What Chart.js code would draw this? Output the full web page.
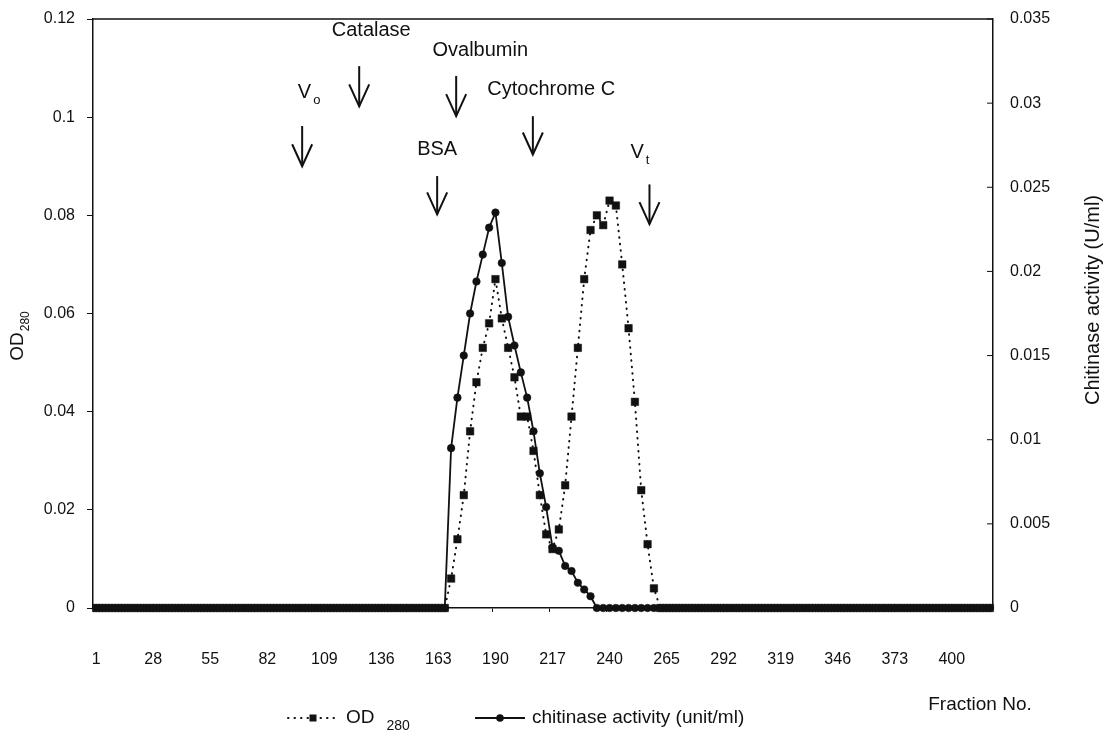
<!DOCTYPE html>
<html>
<head>
<meta charset="utf-8">
<script src="https://cdn.jsdelivr.net/npm/chart.js@4.4.1/dist/chart.umd.min.js"></script>
<style>
  html, body { margin: 0; padding: 0; background: #fff; }
  canvas { display: block; }
</style>
</head>
<body>
<canvas id="chart" width="1104" height="733"></canvas>
<script>
// Fraction numbers printed under every 9th tube
const fractionTicks = ['1', '28', '55', '82', '109', '136', '163', '190', '217', '240', '265', '292', '319', '346', '373', '400'];
const tickEvery = 9;

// OD280 of each collected tube (142 tubes)
const od280 = [
  0, 0, 0, 0, 0, 0, 0, 0, 0, 0, 0, 0, 0, 0,
  0, 0, 0, 0, 0, 0, 0, 0, 0, 0, 0, 0, 0, 0,
  0, 0, 0, 0, 0, 0, 0, 0, 0, 0, 0, 0, 0, 0,
  0, 0, 0, 0, 0, 0, 0, 0, 0, 0, 0, 0, 0, 0,
  0.006, 0.014, 0.023, 0.036, 0.046, 0.053, 0.058, 0.067, 0.059, 0.053,
  0.047, 0.039, 0.039, 0.032, 0.023, 0.015, 0.012, 0.016, 0.025, 0.039,
  0.053, 0.067, 0.077, 0.080, 0.078, 0.083, 0.082, 0.070, 0.057, 0.042,
  0.024, 0.013, 0.004,
  0, 0, 0, 0, 0, 0, 0, 0, 0, 0, 0, 0, 0, 0,
  0, 0, 0, 0, 0, 0, 0, 0, 0, 0, 0, 0, 0, 0,
  0, 0, 0, 0, 0, 0, 0, 0, 0, 0, 0, 0, 0, 0,
  0, 0, 0, 0, 0, 0, 0, 0, 0, 0, 0
];

// chitinase activity (unit/ml) of the same tubes
const chitinase = [
  0, 0, 0, 0, 0, 0, 0, 0, 0, 0, 0, 0, 0, 0,
  0, 0, 0, 0, 0, 0, 0, 0, 0, 0, 0, 0, 0, 0,
  0, 0, 0, 0, 0, 0, 0, 0, 0, 0, 0, 0, 0, 0,
  0, 0, 0, 0, 0, 0, 0, 0, 0, 0, 0, 0, 0, 0,
  0.0095, 0.0125, 0.0150, 0.0175, 0.0194, 0.0210, 0.0226, 0.0235, 0.0205, 0.0173,
  0.0156, 0.0140, 0.0125, 0.0105, 0.0080, 0.0060, 0.0036, 0.0034, 0.0025, 0.0022,
  0.0015, 0.0011, 0.0007,
  0, 0, 0, 0, 0, 0, 0, 0, 0, 0, 0, 0, 0, 0,
  0, 0, 0, 0, 0, 0, 0, 0, 0, 0, 0, 0, 0, 0,
  0, 0, 0, 0, 0, 0, 0, 0, 0, 0, 0, 0, 0, 0,
  0, 0, 0, 0, 0, 0, 0, 0, 0, 0, 0, 0, 0, 0,
  0, 0, 0, 0, 0, 0, 0
];

// Molecular weight standards and column volumes (x in tube index, y in OD units)
const standards = [
  { text: 'Catalase',     textX: 43.4, textY: 0.1176, arrowX: 41.5, from: 0.1104, to: 0.1022 },
  { text: 'V', sub: 'o',  textX: 33.6, textY: 0.1051, arrowX: 32.5, from: 0.0982, to: 0.0900 },
  { text: 'Ovalbumin',    textX: 60.6, textY: 0.1135, arrowX: 56.8, from: 0.1084, to: 0.1002 },
  { text: 'Cytochrome C', textX: 71.8, textY: 0.1057, arrowX: 68.9, from: 0.1002, to: 0.0924 },
  { text: 'BSA',          textX: 53.8, textY: 0.0935, arrowX: 53.8, from: 0.0880, to: 0.0802 },
  { text: 'V', sub: 't',  textX: 85.8, textY: 0.0929, arrowX: 87.3, from: 0.0863, to: 0.0782 }
];

const categories = od280.map((_, i) => i % tickEvery === 0 ? (fractionTicks[i / tickEvery] || '') : '');

const ink = '#111';
const family = '"Liberation Sans", Arial, sans-serif';
const odDash = [0.5, 6];

// draws "main" followed by a lowered, smaller "sub"
function drawSubText(ctx, main, sub, x, y, size, subSize, align, gap) {
  ctx.font = `${size}px ${family}`;
  const w1 = ctx.measureText(main).width;
  ctx.font = `${subSize}px ${family}`;
  const w2 = sub ? ctx.measureText(sub).width + (gap || 1) : 0;
  let left = x;
  if (align === 'center') left = x - (w1 + w2) / 2;
  ctx.textAlign = 'left';
  ctx.textBaseline = 'middle';
  ctx.font = `${size}px ${family}`;
  ctx.fillText(main, left, y);
  if (sub) {
    ctx.font = `${subSize}px ${family}`;
    ctx.fillText(sub, left + w1 + (gap || 1), y + size * 0.42);
  }
}

function line(ctx, x1, y1, x2, y2) {
  ctx.beginPath();
  ctx.moveTo(x1, y1);
  ctx.lineTo(x2, y2);
  ctx.stroke();
}

const decorations = {
  id: 'decorations',
  afterDraw(chart) {
    const { ctx, chartArea: a, scales: { x, y, y2 } } = chart;
    ctx.save();
    ctx.strokeStyle = ink;
    ctx.fillStyle = ink;

    // top edge of the plot frame
    ctx.lineWidth = 1.5;
    line(ctx, a.left, a.top, a.right, a.top);

    // right axis ticks point inward
    ctx.lineWidth = 1;
    y2.ticks.forEach(t => {
      const py = y2.getPixelForValue(t.value);
      line(ctx, a.right - 6, py, a.right, py);
    });

    // standards: label + down arrow
    standards.forEach(s => {
      drawSubText(ctx, s.text, s.sub, x.getPixelForValue(s.textX), y.getPixelForValue(s.textY), 20, 13, 'center', 2);
      const ax = x.getPixelForValue(s.arrowX);
      const top = y.getPixelForValue(s.from);
      const tip = y.getPixelForValue(s.to);
      ctx.lineWidth = 2;
      line(ctx, ax, top, ax, tip);
      ctx.beginPath();
      ctx.moveTo(ax - 10, tip - 22);
      ctx.lineTo(ax, tip);
      ctx.lineTo(ax + 10, tip - 22);
      ctx.stroke();
    });

    // axis titles
    ctx.save();
    ctx.translate(18, 336);
    ctx.rotate(-Math.PI / 2);
    drawSubText(ctx, 'OD', '280', 0, 0, 19, 12, 'center', 1);
    ctx.restore();

    ctx.save();
    ctx.translate(1093, 300);
    ctx.rotate(-Math.PI / 2);
    ctx.font = `20px ${family}`;
    ctx.textAlign = 'center';
    ctx.textBaseline = 'middle';
    ctx.fillText('Chitinase activity (U/ml)', 0, 0);
    ctx.restore();

    ctx.font = `19px ${family}`;
    ctx.textAlign = 'center';
    ctx.textBaseline = 'middle';
    ctx.fillText('Fraction No.', 980, 705);

    // legend
    const ly = 718;
    ctx.lineWidth = 2;
    ctx.lineCap = 'round';
    ctx.setLineDash(odDash);
    line(ctx, 288, ly, 338, ly);
    ctx.setLineDash([]);
    ctx.lineCap = 'butt';
    ctx.fillRect(309.5, ly - 3.5, 7, 7);
    drawSubText(ctx, 'OD', '280', 346, ly, 19, 14, 'left', 12);

    ctx.lineWidth = 1.8;
    line(ctx, 475, ly, 525, ly);
    ctx.beginPath();
    ctx.arc(500, ly, 3.8, 0, Math.PI * 2);
    ctx.fill();
    ctx.font = `19px ${family}`;
    ctx.textAlign = 'left';
    ctx.fillText('chitinase activity (unit/ml)', 532, ly);

    ctx.restore();
  }
};

const tickFont = { family: family, size: 16 };

// keep the plot box fixed: axis widths set, no extra label padding at the top
const fixVertical = width => s => {
  s.width = width;
  s.paddingTop = 0;
  s.paddingBottom = 0;
};

new Chart(document.getElementById('chart'), {
  type: 'line',
  data: {
    labels: categories,
    datasets: [
      {
        label: 'OD 280',
        data: od280,
        yAxisID: 'y',
        borderColor: ink,
        backgroundColor: ink,
        borderWidth: 2,
        borderDash: odDash,
        borderCapStyle: 'round',
        pointStyle: 'rect',
        pointRadius: 5.3,
        pointBorderWidth: 0.5,
        pointBorderColor: ink,
        pointBackgroundColor: ink,
        tension: 0,
        clip: false
      },
      {
        label: 'chitinase activity (unit/ml)',
        data: chitinase,
        yAxisID: 'y2',
        borderColor: ink,
        backgroundColor: ink,
        borderWidth: 1.8,
        pointStyle: 'circle',
        pointRadius: 3.8,
        pointBorderWidth: 0.5,
        pointBorderColor: ink,
        pointBackgroundColor: ink,
        tension: 0,
        clip: false
      }
    ]
  },
  options: {
    responsive: false,
    animation: false,
    events: [],
    layout: { padding: { top: 19, left: 0, right: 0, bottom: 0 } },
    plugins: {
      legend: { display: false },
      tooltip: { enabled: false }
    },
    scales: {
      x: {
        offset: true,
        grid: {
          offset: true,
          drawOnChartArea: false,
          tickLength: 4,
          color: c => c.index % tickEvery === 0 ? ink : 'transparent'
        },
        border: { color: ink, width: 1.5 },
        ticks: { autoSkip: false, maxRotation: 0, padding: 38, color: ink, font: tickFont },
        afterFit: s => { s.height = 125; }
      },
      y: {
        position: 'left',
        min: 0,
        max: 0.12,
        grid: { drawOnChartArea: false, tickLength: 6, color: ink },
        border: { color: ink, width: 1.5 },
        ticks: {
          stepSize: 0.02,
          padding: 12,
          color: ink,
          font: tickFont,
          callback: v => String(+v.toFixed(3))
        },
        afterFit: fixVertical(93)
      },
      y2: {
        position: 'right',
        min: 0,
        max: 0.035,
        grid: { drawOnChartArea: false, drawTicks: false },
        border: { color: ink, width: 1.5 },
        ticks: {
          stepSize: 0.005,
          padding: 17,
          color: ink,
          font: tickFont,
          callback: v => String(+v.toFixed(4))
        },
        afterFit: fixVertical(111)
      }
    }
  },
  plugins: [decorations]
});
</script>
</body>
</html>
